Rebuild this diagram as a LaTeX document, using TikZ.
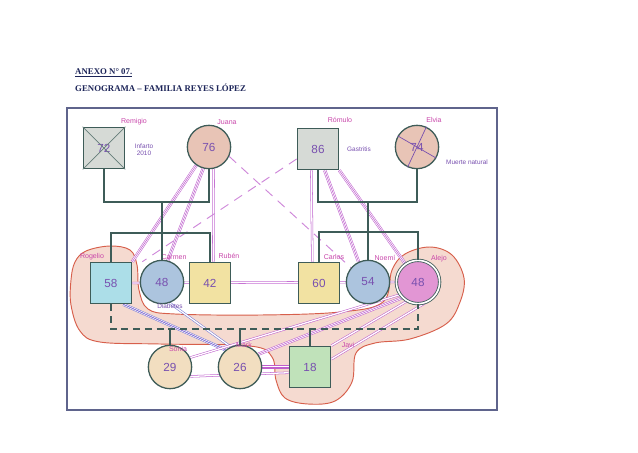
\documentclass[tikz,border=0pt]{standalone}
\usepackage{fontspec}
\setmainfont{Liberation Serif}
\newfontfamily\handfont{Liberation Sans}
\usetikzlibrary{backgrounds}

\definecolor{titlecol}{RGB}{28,36,88}
\definecolor{framecol}{RGB}{95,100,140}
\definecolor{gencol}{RGB}{62,92,88}
\definecolor{relcol}{RGB}{190,95,205}
\definecolor{bluecol}{RGB}{115,120,215}
\definecolor{lblcol}{RGB}{200,70,170}
\definecolor{agecol}{RGB}{120,80,175}
\definecolor{blobcol}{RGB}{215,95,75}
\definecolor{blobfill}{RGB}{242,205,192}
\definecolor{grayfill}{RGB}{214,218,214}
\definecolor{rosefill}{RGB}{232,196,182}
\definecolor{cyanfill}{RGB}{172,222,232}
\definecolor{bluefill}{RGB}{172,196,222}
\definecolor{yellowfill}{RGB}{242,226,162}
\definecolor{pinkfill}{RGB}{226,150,212}
\definecolor{beigefill}{RGB}{242,222,192}
\definecolor{greenfill}{RGB}{192,226,186}

\tikzset{
  persona/.style={draw=gencol, line width=1.1pt, text=agecol, font=\handfont\normalsize},
  hombre/.style={persona, rectangle, minimum size=12.4mm},
  mujer/.style={persona, circle, minimum size=13mm, inner sep=0pt},
  lbl/.style={text=lblcol, font=\handfont\fontsize{6}{7}\selectfont, inner sep=1pt},
  nota/.style={text=agecol, font=\handfont\fontsize{5.5}{6}\selectfont, align=center, inner sep=1pt},
  gen/.style={draw=gencol, line width=1.1pt},
  union/.style={gen, dash pattern=on 6pt off 4pt},
  rel2/.style={draw=relcol, line width=0.45pt, double=white, double distance=1.1pt},
  rel3/.style={draw=relcol, line width=2.7pt, postaction={draw=white, line width=1.8pt}, postaction={draw=relcol, line width=0.45pt}},
  reldist/.style={draw=relcol!75, line width=0.8pt, dash pattern=on 8pt off 6pt},
  blue2/.style={rel2, draw=bluecol},
  blue3/.style={rel3, draw=bluecol, postaction={draw=bluecol, line width=0.45pt}},
}

\begin{document}
\begin{tikzpicture}[x=0.3mm, y=-0.3mm]
  \useasboundingbox (0,0) rectangle (638,452);

  % --- titulo ---
  \node[anchor=west, text=titlecol, font=\bfseries\fontsize{7.5}{9}\selectfont, inner sep=0pt] (anexo) at (75,73) {\underline{ANEXO N° 07.}};
  \node[anchor=west, text=titlecol, font=\bfseries\fontsize{7.5}{9}\selectfont, inner sep=0pt] (titulo) at (75,88) {GENOGRAMA – FAMILIA REYES LÓPEZ};

  % --- marco ---
  \draw[framecol, line width=1pt] (67,108) rectangle (497,410);

  % --- abuelos ---
  \node[hombre, fill=grayfill] (remigio) at (104,148) {72};
  \node[mujer, fill=rosefill] (juana) at (209,147) {76};
  \node[hombre, fill=grayfill] (romulo) at (318,149) {86};
  \node[mujer, fill=rosefill] (elvia) at (417,147) {74};

  % --- hijos ---
  \node[hombre, fill=cyanfill] (rogelio) at (111,283) {58};
  \node[mujer, fill=bluefill] (carmen) at (162,282) {48};
  \node[hombre, fill=yellowfill] (ruben) at (210,283) {42};
  \node[hombre, fill=yellowfill] (carlos) at (319,283) {60};
  \node[mujer, fill=bluefill] (noemi) at (368,282) {54};
  \node[mujer, fill=pinkfill, double=white, double distance=1.4pt, line width=0.7pt] (alejo) at (418,282) {48};

  % --- nietos ---
  \node[mujer, fill=beigefill] (sonia) at (170,367) {29};
  \node[mujer, fill=beigefill] (mark) at (240,367) {26};
  \node[hombre, fill=greenfill] (javi) at (310,367) {18};

  % fallecidos
  \draw[gencol!80, line width=0.6pt] (remigio.north west) -- (remigio.south east) (remigio.north east) -- (remigio.south west);
  \draw[agecol, line width=0.6pt] (elvia.150) -- (elvia.-30) (elvia.65) -- (elvia.245);

  % --- nombres ---
  \node[lbl] (lremigio) at (134,122) {Remigio};
  \node[lbl] (ljuana) at (227,122) {Juana};
  \node[lbl] (lromulo) at (340,120) {Rómulo};
  \node[lbl] (lelvia) at (434,120) {Elvia};
  \node[lbl] (lrogelio) at (92,257) {Rogelio};
  \node[lbl] (lcarmen) at (174,257) {Carmen};
  \node[lbl] (lruben) at (229,256) {Rubén};
  \node[lbl] (lcarlos) at (334,257) {Carlos};
  \node[lbl] (lnoemi) at (385,258) {Noemí};
  \node[lbl] (lalejo) at (439,259) {Alejo};
  \node[lbl] (lsonia) at (178,349) {Sonia};
  \node[lbl] (lmark) at (244,345) {Mark};
  \node[lbl] (ljavi) at (348,345) {Javi};

  \node[nota] (infarto) at (144,150) {Infarto\\2010};
  \node[nota] (gastritis) at (359,149) {Gastritis};
  \node[nota] (muerte) at (467,162) {Muerte natural};
  \node[nota] (diabetes) at (170,306) {Diabetes};

  % --- uniones y filiacion ---
  \coordinate (cpl1) at (162,202);
  \coordinate (sib1) at (162,233);
  \coordinate (cpl2) at (368,202);
  \coordinate (sib2) at (368,232);
  \coordinate (uni) at (240,329);

  \draw[gen] (remigio.south) |- (cpl1) -| (juana.south);
  \draw[gen] (cpl1) -- (carmen.north);
  \draw[gen] (rogelio.north) |- (sib1) -| (ruben.north);
  \draw[gen] (romulo.south) |- (cpl2) -| (elvia.south);
  \draw[gen] (cpl2) -- (noemi.north);
  \draw[gen] (carlos.north) |- (sib2) -| (alejo.north);
  \draw[union] (rogelio.south) |- (uni) -| (alejo.south);
  \draw[gen] (sonia.north) -- (sonia.north |- uni);
  \draw[gen] (mark.north) -- (uni);
  \draw[gen] (javi.north) -- (javi.north |- uni);

  \begin{scope}[on background layer]
    % hogar
    \draw[blobcol, line width=0.8pt, fill=blobfill, fill opacity=0.75]
      plot[smooth cycle, tension=0.6] coordinates {
        (75,262) (86,251) (110,246) (130,250) (137,265) (139,290) (148,309)
        (175,314) (260,315) (340,312) (383,302) (392,270) (405,254) (430,247)
        (452,255) (464,278) (460,302) (446,324) (410,339) (375,343) (356,353)
        (352,382) (335,401) (308,404) (285,398) (276,380) (272,357) (250,346)
        (160,344) (100,342) (80,331) (71,305) (71,280)};

    % relaciones
    \draw[rel3] (juana.235) -- (rogelio.north east);
    \draw[rel3] (juana.255) -- (carmen.75);
    \draw[rel2] (juana.-78) -- ([xshift=1mm]ruben.north);
    \draw[reldist] (juana.-25) -- (noemi.140);
    \draw[reldist] (romulo.205) -- ([xshift=3mm]rogelio.north east);
    \draw[rel2] ([xshift=-2mm]romulo.south) -- ([xshift=-2mm]carlos.north);
    \draw[rel3] ([xshift=2mm]romulo.south) -- (noemi.115);
    \draw[rel3] (romulo.south east) -- (alejo.125);
    \draw[rel2] (rogelio.east) -- (alejo.west);
    \draw[blue3] (rogelio.-60) -- (mark.130);
    \draw[blue2] (carmen.-70) -- (mark.115);
    \draw[rel2] (alejo.215) -- (sonia.25);
    \draw[rel3] (alejo.225) -- (mark.35);
    \draw[rel2] (alejo.240) -- (javi.north east);
    \draw[rel2] (javi.20) -- (alejo.-70);
    \draw[rel3] (mark.east) -- (javi.west);
    \draw[rel2] (sonia.-25) -- (javi.-165);
  \end{scope}
\end{tikzpicture}
\end{document}
